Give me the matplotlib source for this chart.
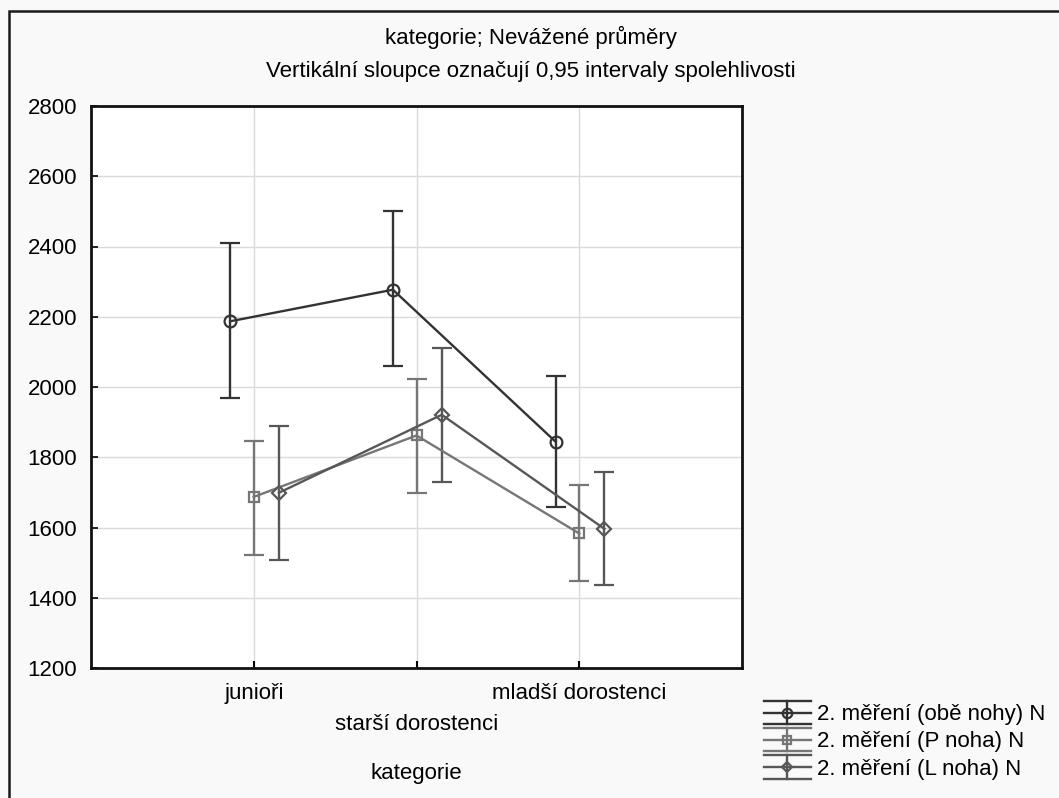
import numpy as np
import matplotlib
matplotlib.use("Agg")
import matplotlib.pyplot as plt
from matplotlib.patches import Rectangle
from matplotlib.lines import Line2D
from matplotlib.legend_handler import HandlerBase

plt.rcParams['font.family'] = ['Liberation Sans', 'DejaVu Sans']

# Data
categories = ['junioři', 'starší dorostenci', 'mladší dorostenci']
series_names = ['2. měření (obě nohy) N', '2. měření (P noha) N', '2. měření (L noha) N']
means_obe = [2187, 2277, 1844]
upper_obe = [2411, 2500, 2032]
lower_obe = [1968, 2059, 1658]
means_p = [1687, 1862, 1583]
upper_p = [1847, 2024, 1722]
lower_p = [1522, 1697, 1447]
means_l = [1699, 1921, 1596]
upper_l = [1888, 2110, 1758]
lower_l = [1507, 1730, 1436]

series = [
    (means_obe, upper_obe, lower_obe, -0.145, '#333333', 'o'),
    (means_p, upper_p, lower_p, 0.0, '#767676', 's'),
    (means_l, upper_l, lower_l, 0.155, '#575757', 'D'),
]


class WhiskerHandler(HandlerBase):
    """Legend key: marker on a line, with full-width caps above and below."""

    def create_artists(self, legend, orig_handle, xdescent, ydescent,
                       width, height, fontsize, trans):
        data_line = orig_handle[0]
        col = data_line.get_color()
        mk = data_line.get_marker()
        lw = data_line.get_linewidth()
        yc = height / 2 - ydescent
        x0, x1 = -xdescent, width - xdescent
        xm = (x0 + x1) / 2
        d = height * 0.75
        arts = [
            Line2D([x0, x1], [yc, yc], color=col, lw=lw),
            Line2D([x0, x1], [yc + d, yc + d], color=col, lw=lw),
            Line2D([x0, x1], [yc - d, yc - d], color=col, lw=lw),
            Line2D([xm, xm], [yc - d, yc + d], color=col, lw=lw),
            Line2D([xm], [yc], marker=mk, markersize=data_line.get_markersize() * 0.8,
                   markerfacecolor='none', markeredgecolor=col,
                   markeredgewidth=data_line.get_markeredgewidth()),
        ]
        for a in arts:
            a.set_transform(trans)
        return arts


FS = 16
W, H = 1059, 798
fig = plt.figure(figsize=(W / 100, H / 100), dpi=100, facecolor='#f9f9f9')
ax = fig.add_axes([91 / W, 1 - 668 / H, (742 - 91) / W, (668 - 106) / H])
ax.set_facecolor('white')

# outer frame (runs off the right and bottom edges)
fig.patches.append(Rectangle((9 / W, -0.05), 1.2, 1 - 11 / H + 0.05,
                             transform=fig.transFigure, fill=False,
                             edgecolor='#1a1a1a', linewidth=1.8))

x = np.arange(1, len(categories) + 1)
handles = []
for (m, up, lo, off, col, mk), name in zip(series, series_names):
    m = np.array(m)
    yerr = [m - np.array(lo), np.array(up) - m]
    msize = 8.5 if mk == 'o' else (7.5 if mk == 's' else 7)
    h = ax.errorbar(x + off, m, yerr=yerr, color=col, ecolor=col, linewidth=1.7,
                    elinewidth=1.7, capsize=7, capthick=1.7, marker=mk,
                    markersize=msize, markerfacecolor='none', markeredgecolor=col,
                    markeredgewidth=1.6, label=name, zorder=3)
    handles.append(h)

ax.set_xlim(0, 4)
ax.set_ylim(1200, 2800)
ax.set_yticks(np.arange(1200, 2801, 200))

# staggered category labels
ax.set_xticks([1, 3])
ax.set_xticklabels([categories[0], categories[2]])
ax.set_xticks([2], minor=True)
ax.set_xticklabels([categories[1]], minor=True)
ax.tick_params(axis='x', which='major', direction='in', length=5, width=1.5,
               pad=11, labelsize=FS)
ax.tick_params(axis='x', which='minor', direction='in', length=5, width=1.5,
               pad=33, labelsize=FS)
ax.tick_params(axis='y', direction='in', length=5, width=1.2, pad=10, labelsize=FS)

ax.grid(True, which='both', color='#dadada', linewidth=1)
ax.set_axisbelow(True)
for s in ax.spines.values():
    s.set_linewidth(2)
    s.set_color('#111111')

ax.set_xlabel('kategorie', fontsize=FS, labelpad=20)

fig.text(531 / W, 1 - 37 / H, 'kategorie; Nevážené průměry', ha='center',
         va='center', fontsize=FS)
fig.text(531 / W, 1 - 72 / H,
         'Vertikální sloupce označují 0,95 intervaly spolehlivosti',
         ha='center', va='center', fontsize=FS)

fig.legend(handles=handles, loc='center left', bbox_to_anchor=(764 / W, 1 - 742 / H),
           frameon=False, fontsize=FS, handlelength=2.1, handletextpad=0.3,
           labelspacing=0.28, borderpad=0, borderaxespad=0,
           handler_map={type(handles[0]): WhiskerHandler()})

fig.savefig('out.png', dpi=100, facecolor=fig.get_facecolor())
